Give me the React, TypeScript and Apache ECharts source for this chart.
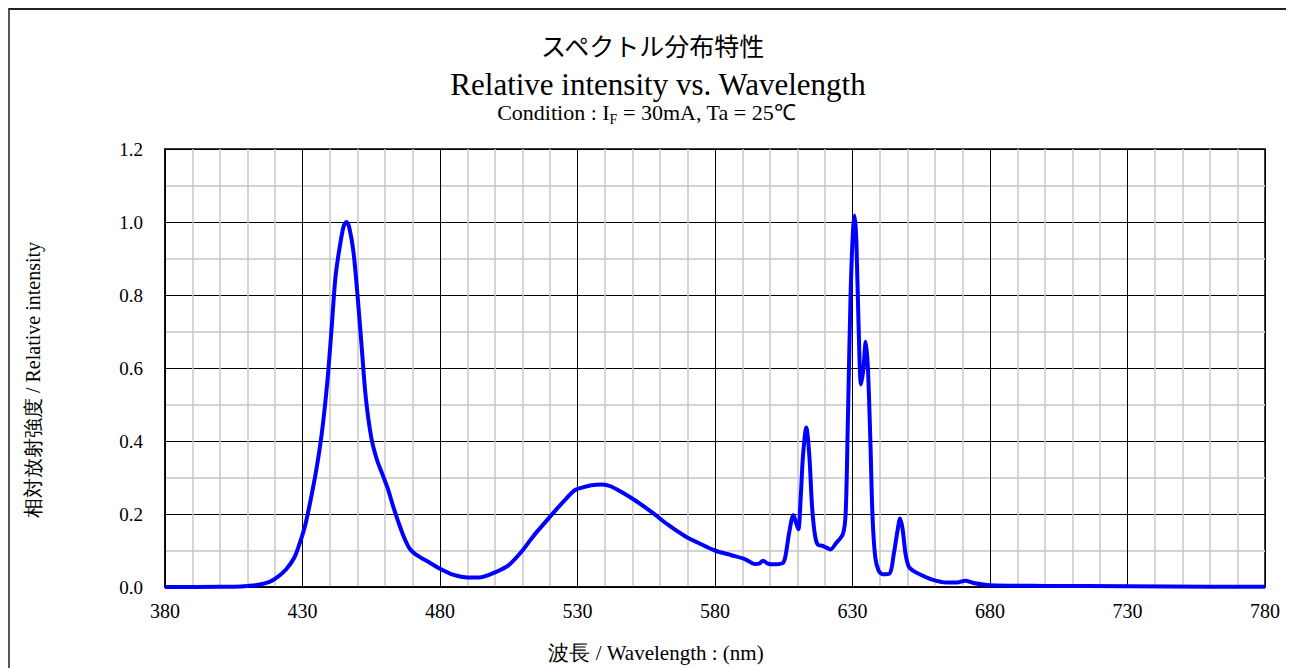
import React, { useEffect, useRef } from "react";
import * as echarts from "echarts";

const wavelengths: number[] = [
  380, 400, 405, 410, 414, 418, 421, 424, 427, 429, 431, 433, 435, 437, 439, 440.5, 442, 443.5, 445, 446, 447,
  448.5, 450, 451.5, 453, 455, 457, 459, 461, 463, 465, 467, 469, 472, 476, 480, 485, 490, 495, 500, 505, 510,
  514, 518, 522, 526, 529, 532, 535, 539, 542, 546, 551, 557, 563, 569, 575, 580, 586, 591, 594.5, 596, 597.5,
  599, 601, 604.5, 605.5, 607, 608.5, 609.5, 610.3, 611.2, 612, 613.2, 614.3, 615.3, 616.4, 617.5, 619, 620.5,
  622, 624, 626.5, 627.5, 628.3, 629.3, 630.2, 630.8, 631.4, 632.2, 633.1, 634, 634.8, 635.6, 636.5, 637.3,
  638.3, 639.5, 641, 643.5, 645, 646.5, 647.3, 648.2, 649.3, 650.5, 652, 655, 659, 664, 668, 671, 674, 680,
  700, 730, 760, 780,
];

const intensities: number[] = [
  0, 0.0005, 0.001, 0.003, 0.006, 0.014, 0.028, 0.048, 0.08, 0.12, 0.17, 0.24, 0.32, 0.42, 0.56, 0.7, 0.85,
  0.93, 0.99, 1.0, 0.985, 0.92, 0.8, 0.66, 0.52, 0.41, 0.35, 0.31, 0.27, 0.22, 0.175, 0.135, 0.105, 0.085,
  0.068, 0.05, 0.033, 0.026, 0.027, 0.04, 0.06, 0.1, 0.14, 0.175, 0.21, 0.243, 0.265, 0.273, 0.279, 0.281,
  0.276, 0.26, 0.237, 0.205, 0.17, 0.14, 0.117, 0.1, 0.087, 0.076, 0.063, 0.064, 0.072, 0.065, 0.062, 0.065,
  0.08, 0.15, 0.197, 0.175, 0.158, 0.25, 0.36, 0.437, 0.36, 0.22, 0.14, 0.115, 0.113, 0.108, 0.103, 0.12,
  0.145, 0.2, 0.45, 0.8, 0.98, 1.018, 0.95, 0.72, 0.555, 0.6, 0.672, 0.6, 0.4, 0.19, 0.08, 0.045, 0.035,
  0.037, 0.09, 0.16, 0.188, 0.16, 0.09, 0.055, 0.045, 0.033, 0.02, 0.012, 0.012, 0.017, 0.011, 0.005, 0.003,
  0.002, 0.001, 0.0005,
];

const titleJa = "スペクトル分布特性";
const titleEn = "Relative intensity vs. Wavelength";
const yName = "相対放射強度 / Relative intensity";
const xName = "波長 / Wavelength : (nm)";

const SERIF = "Liberation Serif";
const CJK = "Noto Sans CJK JP";

export default function App() {
  const ref = useRef<HTMLDivElement>(null);

  useEffect(() => {
    if (!ref.current) return;
    const chart = echarts.init(ref.current, undefined, { renderer: "svg" });
    const data = wavelengths.map((w, i) => [w, intensities[i]]);
    chart.setOption({
      animation: false,
      backgroundColor: "#ffffff",
      grid: {
        left: 155,
        top: 139,
        width: 1100,
        height: 438,
        show: true,
        borderColor: "#000",
        borderWidth: 1.5,
        backgroundColor: "transparent",
        containLabel: false,
      },
      xAxis: {
        type: "value",
        min: 380,
        max: 780,
        interval: 50,
        axisLine: { show: true, lineStyle: { color: "#000", width: 1.5 } },
        axisTick: { show: false },
        axisLabel: { color: "#000", fontFamily: SERIF, fontSize: 20, margin: 14 },
        splitLine: { show: true, lineStyle: { color: "#000", width: 1 } },
        minorTick: { show: false, splitNumber: 5 },
        minorSplitLine: { show: true, lineStyle: { color: "#c8c8c8", width: 1.5 } },
      },
      yAxis: {
        type: "value",
        min: 0,
        max: 1.2,
        interval: 0.2,
        axisLine: { show: true, lineStyle: { color: "#000", width: 1.5 } },
        axisTick: { show: false },
        axisLabel: {
          color: "#000",
          fontFamily: SERIF,
          fontSize: 19,
          margin: 22,
          formatter: (v: number) => v.toFixed(1),
        },
        splitLine: { show: true, lineStyle: { color: "#000", width: 1 } },
        minorTick: { show: false, splitNumber: 2 },
        minorSplitLine: { show: true, lineStyle: { color: "#d4d4d4", width: 2 } },
      },
      series: [
        {
          type: "line",
          data,
          showSymbol: false,
          smooth: 0.3,
          clip: false,
          lineStyle: { color: "#0000ff", width: 4 },
          z: 5,
        },
      ],
      graphic: [
        {
          type: "text",
          x: 642.5,
          y: 35,
          style: {
            text: titleJa,
            fontFamily: CJK,
            fontSize: 25,
            fill: "#000",
            textAlign: "center",
            textVerticalAlign: "middle",
          },
        },
        {
          type: "text",
          x: 648,
          y: 74,
          style: {
            text: titleEn,
            fontFamily: SERIF,
            fontSize: 31,
            fill: "#000",
            textAlign: "center",
            textVerticalAlign: "middle",
          },
        },
        {
          type: "text",
          x: 636.5,
          y: 101,
          style: {
            text: "{a|Condition : I}{s|F}{a| = 30mA, Ta = 25℃}",
            textAlign: "center",
            textVerticalAlign: "middle",
            rich: {
              a: { fontFamily: SERIF, fontSize: 22, fill: "#000", lineHeight: 24, verticalAlign: "bottom" },
              s: { fontFamily: SERIF, fontSize: 14, fill: "#000", lineHeight: 24, verticalAlign: "bottom", padding: [0, 0, -3, 0] },
            },
          },
        },
        {
          type: "text",
          x: 23,
          y: 370,
          rotation: Math.PI / 2,
          style: {
            text: yName,
            fontFamily: SERIF,
            fontSize: 20,
            fill: "#000",
            textAlign: "center",
            textVerticalAlign: "middle",
          },
        },
        {
          type: "text",
          x: 646,
          y: 643,
          style: {
            text: xName,
            fontFamily: SERIF,
            fontSize: 21,
            fill: "#000",
            textAlign: "center",
            textVerticalAlign: "middle",
          },
        },
      ],
    });
    return () => chart.dispose();
  }, []);

  return (
    <div
      style={{
        boxSizing: "border-box",
        width: 1286,
        height: 660,
        borderLeft: "2px solid #555",
        borderTop: "2px solid #222",
        background: "#fff",
        overflow: "hidden",
      }}
    >
      <div ref={ref} style={{ width: 1284, height: 658 }} />
    </div>
  );
}
